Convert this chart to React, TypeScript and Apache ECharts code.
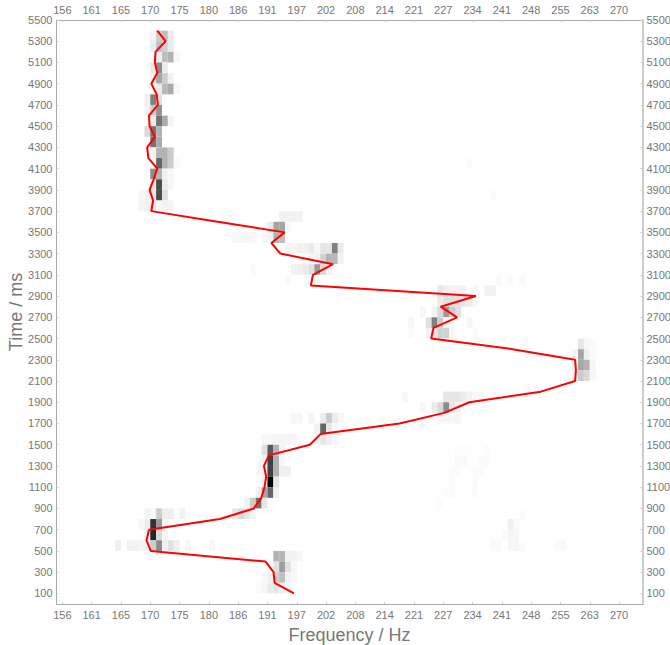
import React, { useEffect, useRef } from "react";
import * as echarts from "echarts";

const freqLabels = [156, 161, 165, 170, 175, 180, 186, 191, 197, 202, 208, 214, 221, 227, 234, 241, 248, 255, 263, 270];
const timeLabels = [100, 300, 500, 700, 900, 1100, 1300, 1500, 1700, 1900, 2100, 2300, 2500, 2700, 2900, 3100, 3300, 3500, 3700, 3900, 4100, 4300, 4500, 4700, 4900, 5100, 5300, 5500];

const pitchTimes = [100, 200, 300, 400, 500, 600, 700, 800, 900, 1000, 1100, 1200, 1300, 1400, 1500, 1600, 1700, 1800, 1900, 2000, 2100, 2200, 2300, 2400, 2500, 2600, 2700, 2800, 2900, 3000, 3100, 3200, 3300, 3400, 3500, 3600, 3700, 3800, 3900, 4000, 4100, 4200, 4300, 4400, 4500, 4600, 4700, 4800, 4900, 5000, 5100, 5200, 5300, 5400];
const pitchHz = [196.0, 192.3, 192.1, 190.6, 170.2, 169.5, 169.9, 182.2, 188.4, 189.8, 190.4, 190.7, 190.3, 191.2, 199.1, 201.2, 217.5, 227.3, 233.0, 250.0, 258.6, 258.8, 258.6, 243.1, 224.4, 224.9, 230.2, 226.5, 234.5, 199.3, 199.7, 203.7, 193.4, 191.7, 194.2, 181.8, 170.3, 170.6, 170.0, 170.7, 171.3, 169.8, 169.6, 170.9, 170.0, 169.9, 171.4, 171.2, 170.3, 171.3, 170.9, 171.0, 172.7, 171.3];

// [frequency bin, time of the frame in ms, darkness 0..1]
const cells: number[][] = [
  [16,5300,.04],[17,5300,.2],[18,5300,.25],[19,5300,.08],
  [16,5200,.08],[17,5200,.25],[18,5200,.18],[19,5200,.08],
  [17,5100,.06],[18,5100,.25],[19,5100,.3],[20,5100,.03],
  [16,5000,.1],[17,5000,.45],[18,5000,.08],
  [16,4900,.06],[17,4900,.35],[18,4900,.2],[19,4900,.05],
  [17,4800,.08],[18,4800,.28],[19,4800,.33],[20,4800,.03],
  [15,4700,.05],[16,4700,.5],[17,4700,.12],
  [15,4600,.04],[16,4600,.2],[17,4600,.42],
  [16,4500,.08],[17,4500,.55],[18,4500,.33],[19,4500,.04],
  [15,4400,.15],[16,4400,.55],[17,4400,.3],
  [16,4300,.55],[17,4300,.33],
  [16,4200,.05],[17,4200,.3],[18,4200,.3],[19,4200,.2],
  [17,4100,.6],[18,4100,.3],[19,4100,.2],[20,4100,.02],[70,4100,.01],
  [16,4000,.45],[17,4000,.3],[18,4000,.06],[19,4000,.03],
  [16,3900,.1],[17,3900,.7],[18,3900,.08],[19,3900,.03],
  [14,3800,.03],[15,3800,.06],[16,3800,.1],[17,3800,.7],[18,3800,.12],[74,3800,.01],
  [14,3700,.04],[15,3700,.06],[16,3700,.1],[17,3700,.03],[18,3700,.05],[19,3700,.04],
  [29,3600,.02],[30,3600,.02],[38,3600,.05],[39,3600,.05],[40,3600,.05],[41,3600,.05],
  [36,3500,.08],[37,3500,.35],[38,3500,.35],[39,3500,.02],
  [30,3400,.03],[31,3400,.03],[32,3400,.03],[33,3400,.03],[35,3400,.03],[36,3400,.05],[37,3400,.3],[38,3400,.25],
  [39,3300,.03],[40,3300,.04],[41,3300,.05],[42,3300,.05],[43,3300,.08],[44,3300,.03],[45,3300,.1],[46,3300,.1],[47,3300,.5],[48,3300,.08],
  [42,3200,.03],[43,3200,.04],[44,3200,.05],[45,3200,.18],[46,3200,.3],[47,3200,.28],[48,3200,.05],
  [33,3100,.02],[40,3100,.05],[41,3100,.06],[42,3100,.08],[43,3100,.12],[44,3100,.4],[45,3100,.15],[46,3100,.05],[47,3100,.02],
  [39,3000,.02],[43,3000,.02],[44,3000,.02],[75,3000,.02],[77,3000,.02],[79,3000,.02],
  [65,2900,.1],[66,2900,.07],[67,2900,.05],[68,2900,.05],[69,2900,.05],[71,2900,.03],[73,2900,.05],[74,2900,.05],
  [65,2800,.08],[66,2800,.12],[67,2800,.12],[68,2800,.12],[69,2800,.1],[70,2800,.08],[71,2800,.03],
  [62,2700,.03],[64,2700,.05],[65,2700,.15],[66,2700,.4],[67,2700,.2],[68,2700,.12],
  [60,2600,.03],[63,2600,.12],[64,2600,.5],[65,2600,.2],[66,2600,.04],[67,2600,.02],[70,2600,.03],
  [60,2500,.02],[63,2500,.05],[64,2500,.1],[65,2500,.18],[66,2500,.18],[67,2500,.03],[71,2500,.02],
  [89,2400,.1],[90,2400,.03],[91,2400,.02],
  [88,2300,.04],[89,2300,.35],[90,2300,.06],[91,2300,.02],
  [88,2200,.03],[89,2200,.35],[90,2200,.3],[91,2200,.03],
  [88,2100,.05],[89,2100,.2],[90,2100,.15],[91,2100,.03],
  [59,1900,.03],[66,1900,.1],[67,1900,.1],[68,1900,.1],[69,1900,.08],[70,1900,.05],[71,1900,.03],[72,1900,.03],
  [62,1800,.03],[64,1800,.08],[65,1800,.15],[66,1800,.45],[67,1800,.1],[68,1800,.05],
  [40,1700,.03],[41,1700,.03],[43,1700,.04],[45,1700,.08],[46,1700,.2],[47,1700,.08],[48,1700,.03],[65,1700,.04],[66,1700,.04],[67,1700,.03],[68,1700,.04],
  [44,1600,.05],[45,1600,.6],[46,1600,.1],[47,1600,.03],
  [35,1500,.03],[36,1500,.03],[37,1500,.04],[38,1500,.04],[39,1500,.04],[40,1500,.03],[44,1500,.04],[45,1500,.1],[46,1500,.06],[47,1500,.02],
  [35,1400,.12],[36,1400,.65],[37,1400,.3],[38,1400,.05],[68,1400,.01],[69,1400,.01],[70,1400,.01],[73,1400,.01],
  [35,1300,.05],[36,1300,.75],[37,1300,.3],[38,1300,.03],[68,1300,.02],[69,1300,.02],[72,1300,.02],[73,1300,.02],
  [34,1200,.03],[35,1200,.04],[36,1200,.75],[37,1200,.3],[38,1200,.06],[39,1200,.06],[67,1200,.015],[68,1200,.015],[71,1200,.015],[72,1200,.015],
  [35,1100,.05],[36,1100,1],[37,1100,.1],[67,1100,.015],[71,1100,.02],
  [34,1000,.05],[35,1000,.35],[36,1000,.6],[37,1000,.05],[66,1000,.01],[67,1000,.015],[71,1000,.015],
  [32,900,.05],[33,900,.2],[34,900,.55],[35,900,.1],[65,900,.01],
  [15,800,.05],[16,800,.03],[17,800,.2],[18,800,.07],[19,800,.07],[21,800,.05],[30,800,.1],[31,800,.15],[32,800,.1],[33,800,.05],[79,800,.01],
  [14,700,.03],[15,700,.08],[16,700,.8],[17,700,.4],[18,700,.04],[77,700,.06],[78,700,.02],
  [15,600,.06],[16,600,.85],[17,600,.15],[18,600,.04],[76,600,.02],[77,600,.04],[78,600,.03],
  [10,500,.06],[12,500,.05],[13,500,.05],[14,500,.04],[15,500,.05],[16,500,.2],[17,500,.45],[18,500,.06],[19,500,.12],[20,500,.06],[22,500,.03],[26,500,.03],[74,500,.02],[75,500,.01],[77,500,.03],[78,500,.03],[79,500,.01],[85,500,.02],[86,500,.025],
  [37,400,.3],[38,400,.3],[39,400,.05],[40,400,.05],[41,400,.03],
  [37,300,.12],[38,300,.38],[39,300,.12],[40,300,.03],
  [35,200,.03],[36,200,.06],[37,200,.2],[38,200,.25],[39,200,.05],[40,200,.03],
  [34,100,.02],[35,100,.03],[36,100,.08],[37,100,.1],[38,100,.06],[39,100,.03],
];

const binCount = 100;
const frameMs = 100;
const hzToBin = (hz: number) => 1 + 120 * Math.log2(hz / freqLabels[0]);
const binTicks = freqLabels.map((_, i) => 1 + 5 * i);
const AXIS = "#a9a9a9";
const TEXT = "#777777";
const FONT = "'Liberation Sans', Arial, sans-serif";

export default function App() {
  const ref = useRef<HTMLDivElement>(null);
  useEffect(() => {
    const chart = echarts.init(ref.current!, undefined, { renderer: "svg" });
    const xAxisBase = (position: string, lineColor: string) => ({
      type: "value",
      position,
      min: 0,
      max: binCount,
      splitLine: { show: false },
      axisLine: { show: true, onZero: false, lineStyle: { color: lineColor, width: 1 } },
      axisTick: { show: true, inside: true, length: 2, customValues: binTicks, lineStyle: { color: "#cccccc" } },
      axisLabel: {
        customValues: binTicks,
        color: TEXT,
        fontSize: 11,
        fontFamily: FONT,
        margin: 5,
        hideOverlap: false,
        showMinLabel: true,
        showMaxLabel: true,
        formatter: (v: number) => String(freqLabels[Math.round((v - 1) / 5)]),
      },
    });
    const yAxisBase = (position: string, lineColor: string, width: number) => ({
      type: "value",
      position,
      min: 0,
      max: 5500,
      splitLine: { show: false },
      axisLine: { show: true, onZero: false, lineStyle: { color: lineColor, width } },
      axisTick: { show: true, inside: true, length: 2, customValues: timeLabels, lineStyle: { color: "#cccccc" } },
      axisLabel: {
        customValues: timeLabels,
        color: TEXT,
        fontSize: 11,
        fontFamily: FONT,
        margin: 4,
        hideOverlap: false,
        showMinLabel: true,
        showMaxLabel: true,
        formatter: (v: number) => String(v),
      },
    });
    chart.setOption({
      animation: false,
      backgroundColor: "#ffffff",
      grid: { left: 56.5, top: 20, width: 586, height: 584, containLabel: false, outerBoundsMode: "none" },
      xAxis: [
        {
          ...xAxisBase("bottom", AXIS),
          name: "Frequency / Hz",
          nameLocation: "middle",
          nameGap: 22,
          nameMoveOverlap: false,
          nameTextStyle: { color: TEXT, fontSize: 18, fontFamily: FONT },
        },
        xAxisBase("top", AXIS),
      ],
      yAxis: [
        {
          ...yAxisBase("left", AXIS, 1),
          name: "Time / ms",
          nameLocation: "middle",
          nameGap: 32,
          nameMoveOverlap: false,
          nameTextStyle: { color: TEXT, fontSize: 18, fontFamily: FONT },
        },
        yAxisBase("right", "#cccccc", 2),
      ],
      series: [
        {
          type: "custom",
          silent: true,
          clip: true,
          z: 2,
          encode: { x: 0, y: 1 },
          data: cells,
          renderItem: (_: unknown, api: any) => {
            const bin = api.value(0);
            const t = api.value(1);
            const g = Math.round(255 * (1 - api.value(2)));
            const p0 = api.coord([bin, t + frameMs]);
            const p1 = api.coord([bin + 1, t]);
            return {
              type: "rect",
              shape: { x: p0[0], y: p0[1], width: p1[0] - p0[0], height: p1[1] - p0[1] },
              style: { fill: `rgb(${g},${g},${g})` },
            };
          },
        },
        {
          type: "line",
          z: 3,
          silent: true,
          showSymbol: false,
          symbol: "none",
          lineStyle: { color: "#ff0000", width: 2 },
          data: pitchHz.map((hz, i) => [hzToBin(hz), pitchTimes[i]]),
        },
      ],
    });
    return () => chart.dispose();
  }, []);
  return <div ref={ref} style={{ position: "absolute", left: 0, top: 0, width: 670, height: 645 }} />;
}
